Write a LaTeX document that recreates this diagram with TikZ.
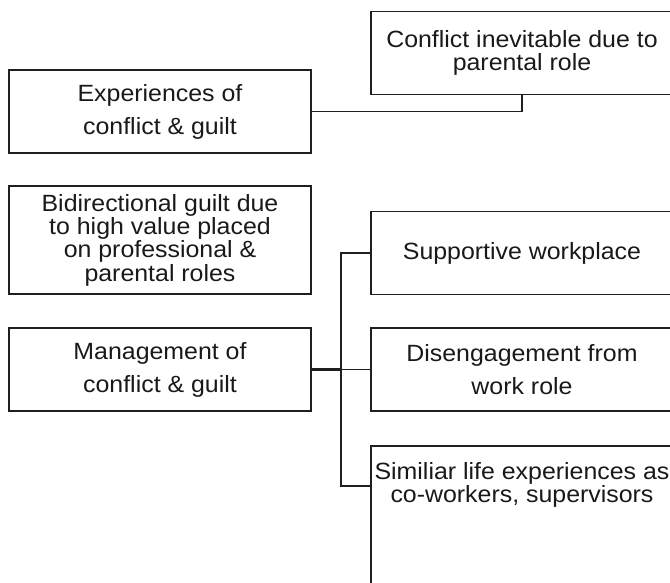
\documentclass[tikz,border=0pt]{standalone}
\usepackage{fontspec}
\setmainfont{Liberation Sans}[FakeStretch=1.06]
\begin{document}
\begin{tikzpicture}[x=1pt,y=-1pt,
  boxline/.style={line width=1.9pt,draw=black!88},
  box/.style={boxline,minimum width=302pt,minimum height=83pt,inner sep=0pt,align=center,text=black!90},
  tight/.style={font=\fontsize{23.5}{23.3}\selectfont},
  loose/.style={font=\fontsize{23.5}{33}\selectfont},
  conn/.style={line width=1.6pt,draw=black!88},
  stub/.style={line width=2.6pt,draw=black!88}]
\useasboundingbox (0,0) rectangle (670,582);
\clip (0,0) rectangle (670,582);
\node[box,loose] (exp) at (160,111.5) {Experiences of\\conflict \& guilt};
\node[box,tight] (conf) at (522,53) {Conflict inevitable due to\\parental role};
\node[box,tight,minimum height=108pt] (bid) at (160,240) {Bidirectional guilt due\\to high value placed\\on professional \&\\parental roles};
\node[box,loose] (mgmt) at (160,369.5) {Management of\\conflict \& guilt};
\node[box,tight] (sup) at (522,253) {Supportive workplace};
\node[box,loose] (dis) at (522,369.5) {Disengagement from\\work role};
\node[box,minimum height=170pt,anchor=north] (sim) at (522,445) {};
\node[tight,inner sep=0pt,align=center,text=black!90] (simtext) at (522,485) {Similiar life experiences as\\co-workers, supervisors};
\draw[conn] (exp.east) -| (conf.south);
\coordinate (j) at (341,369.5);
\coordinate (simw) at (sim.west |- 0,486);
\draw[stub] (mgmt.east) -- (j);
\draw[conn] (j) -- (dis.west);
\draw[conn] (sup.west) -- (j |- sup.west) -- (j |- simw) -- (simw);
\end{tikzpicture}
\end{document}
